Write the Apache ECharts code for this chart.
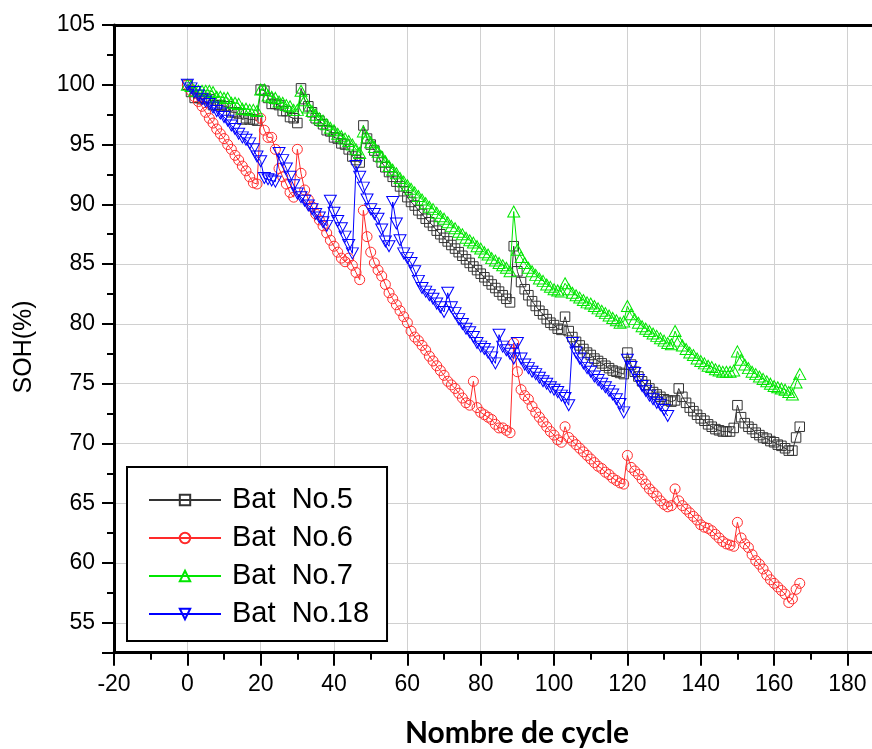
<!DOCTYPE html>
<html>
<head>
<meta charset="utf-8">
<script src="https://cdn.jsdelivr.net/npm/echarts@6.0.0/dist/echarts.min.js"></script>
<style>
  html, body { margin: 0; padding: 0; background: #fff; }
  #chart { width: 872px; height: 749px; }
</style>
</head>
<body>
<div id="chart"></div>
<script>
// Battery state of health (%) versus discharge cycle, batteries No.5, No.6, No.7 and No.18.
const seriesNames = ['Bat  No.5', 'Bat  No.6', 'Bat  No.7', 'Bat  No.18'];

const sohBat5 = [
  100, 99.4, 98.9, 98.9, 98.8, 98.9, 98.8, 98.3, 98.3, 98.3,
  98.2, 98.2, 97.7, 97.7, 97.6, 97.1, 97.2, 97.1, 97.1, 97.0,
  99.6, 99.5, 98.9, 98.4, 98.4, 98.3, 97.8, 97.8, 97.3, 97.2,
  96.8, 99.7, 98.8, 98.2, 97.7, 97.2, 97.0, 96.7, 96.2, 96.1,
  95.6, 95.5, 95.1, 95.0, 94.6, 94.0, 93.7, 93.5, 96.6, 95.5,
  95.0, 94.5, 94.0, 93.5, 93.1, 92.7, 92.3, 91.9, 91.5, 91.1,
  90.6, 90.2, 89.9, 89.5, 89.2, 88.8, 88.5, 88.2, 87.8, 87.5,
  87.2, 86.9, 86.6, 86.3, 86.0, 85.7, 85.4, 85.1, 84.8, 84.5,
  84.2, 83.9, 83.6, 83.3, 83.0, 82.7, 82.4, 82.1, 81.8, 86.5,
  84.4, 83.5, 82.9, 82.4, 81.9, 81.5, 81.1, 80.8, 80.4, 80.1,
  79.9, 79.6, 79.5, 80.6, 79.4, 78.9, 78.5, 78.2, 77.9, 77.6,
  77.4, 77.1, 76.9, 76.7, 76.5, 76.3, 76.1, 76.0, 75.9, 75.8,
  77.6, 76.6, 76.0, 75.6, 75.2, 74.9, 74.6, 74.3, 74.1, 73.9,
  73.7, 73.6, 73.5, 73.6, 74.6, 73.9, 73.4, 73.0, 72.7, 72.4,
  72.1, 71.9, 71.6, 71.4, 71.2, 71.1, 71.0, 71.0, 71.0, 71.3,
  73.2, 72.2, 71.7, 71.4, 71.2, 70.9, 70.7, 70.5, 70.4, 70.2,
  70.1, 69.9, 69.8, 69.6, 69.4, 69.4, 70.5, 71.4
];

const sohBat6 = [
  100, 99.5, 99.0, 98.6, 98.2, 97.7, 97.2, 96.8, 96.3, 95.9,
  95.5, 95.0, 94.6, 94.1, 93.7, 93.2, 92.8, 92.3, 91.8, 91.7,
  97.2, 96.2, 95.6, 95.6, 94.6, 93.0, 92.3, 91.7, 91.0, 90.6,
  94.6, 92.6, 91.2, 90.4, 89.8, 89.2, 88.7, 88.2, 87.6, 87.0,
  86.5, 86.0, 85.5, 85.2, 85.5, 84.9, 84.3, 83.7, 89.5, 87.3,
  86.0, 85.1, 84.5, 84.0, 83.3, 82.6, 82.1, 81.6, 81.1, 80.6,
  80.1, 79.4, 78.9, 78.6, 78.2, 77.8, 77.3, 76.9, 76.5, 76.1,
  75.7, 75.2, 74.9, 74.6, 74.2, 73.8, 73.4, 73.2, 75.2, 73.0,
  72.6, 72.4, 72.2, 72.0, 71.6, 71.3, 71.3, 71.1, 70.9, 78.4,
  76.0, 74.5, 74.0, 73.7, 73.1, 72.6, 72.2, 71.8, 71.4, 71.0,
  70.7, 70.3, 70.1, 71.4, 70.5, 70.2, 69.9, 69.6, 69.3, 69.0,
  68.7, 68.4, 68.1, 67.9, 67.6, 67.4, 67.1, 66.9, 66.7, 66.6,
  69.0, 68.0, 67.7, 67.4, 67.0, 66.6, 66.2, 65.9, 65.6, 65.2,
  64.9, 64.7, 64.8, 66.2, 65.2, 64.8, 64.5, 64.2, 63.9, 63.6,
  63.2, 63.0, 62.9, 62.7, 62.4, 62.1, 61.8, 61.6, 61.5, 61.4,
  63.4, 62.1, 61.6, 61.3, 60.7, 60.2, 59.9, 59.5, 59.0, 58.6,
  58.3, 58.0, 57.7, 57.4, 56.7, 57.0, 57.8, 58.3
];

const sohBat7 = [
  100, 99.9, 99.5, 99.5, 99.5, 99.5, 99.5, 99.4, 99.0, 99.0,
  98.9, 98.9, 98.5, 98.5, 98.4, 98.0, 98.0, 97.9, 97.9, 97.8,
  99.6, 99.6, 99.1, 99.0, 98.9, 98.6, 98.5, 98.3, 98.2, 97.9,
  97.9, 99.5, 98.7, 98.1, 97.8, 97.5, 97.2, 97.0, 96.7, 96.4,
  96.2, 95.9, 95.7, 95.5, 95.3, 95.0, 94.6, 94.3, 96.1, 95.6,
  95.2, 94.8, 94.4, 94.0, 93.6, 93.2, 92.9, 92.6, 92.2, 91.9,
  91.6, 91.3, 91.0, 90.7, 90.4, 90.1, 89.8, 89.6, 89.3, 89.0,
  88.8, 88.5, 88.2, 88.0, 87.7, 87.5, 87.2, 87.0, 86.8, 86.5,
  86.3, 86.0, 85.8, 85.5, 85.3, 85.1, 84.9, 84.7, 84.4, 89.4,
  86.2, 85.6, 85.1, 84.7, 84.4, 84.1, 83.8, 83.6, 83.3, 83.1,
  82.9, 82.8, 82.7, 83.4, 82.9, 82.6, 82.4, 82.2, 82.0, 81.8,
  81.7, 81.5, 81.3, 81.1, 80.9, 80.7, 80.5, 80.3, 80.1, 80.2,
  81.5, 80.8, 80.4, 80.1, 79.8, 79.6, 79.4, 79.2, 79.0, 78.8,
  78.6, 78.4, 78.3, 79.4, 78.6, 78.2, 77.9, 77.6, 77.4, 77.1,
  76.9, 76.7, 76.5, 76.4, 76.2, 76.1, 76.0, 76.0, 76.0, 76.1,
  77.7, 77.0, 76.6, 76.3, 76.0, 75.8, 75.6, 75.4, 75.2, 75.0,
  74.8, 74.7, 74.6, 74.5, 74.3, 74.1, 75.1, 75.8
];

const sohBat18 = [
  100, 99.7, 99.4, 99.1, 98.8, 98.6, 98.4, 98.1, 97.8, 97.6,
  97.3, 97.0, 96.6, 96.3, 95.9, 95.6, 95.4, 95.1, 94.6, 94.0,
  93.6, 92.2, 92.1, 92.0, 91.9, 94.3, 93.7, 93.0, 92.3, 91.6,
  90.9, 90.6, 90.3, 89.9, 89.6, 89.2, 88.9, 88.5, 88.2, 90.3,
  89.3, 88.6, 88.0, 87.3, 86.6, 85.9, 93.2, 92.3, 91.4, 90.4,
  89.6, 89.2, 88.8, 87.9, 86.9, 86.5, 90.2, 88.4, 87.0, 85.9,
  85.5, 85.1, 84.4, 83.6, 83.0, 82.7, 82.4, 82.1, 81.7, 81.4,
  81.0, 82.6, 81.4, 80.9, 80.4, 80.0, 79.6, 79.3, 78.9, 78.4,
  78.1, 77.9, 77.6, 77.2, 76.7, 79.1, 78.1, 77.8, 77.5, 77.1,
  78.4, 77.1, 76.6, 76.3, 76.0, 75.8, 75.5, 75.2, 75.0, 74.7,
  74.5, 74.3, 74.0, 73.8, 73.2, 78.4, 77.6, 77.1, 76.7, 76.3,
  76.0, 75.6, 75.3, 75.0, 74.7, 74.4, 74.1, 73.7, 73.3, 72.6,
  77.0, 76.4, 75.9, 75.3, 74.8, 74.4, 74.0, 73.7, 73.4, 73.2,
  72.8, 72.3
];

// Axis range (the frame continues past the right edge) and tick positions
const xRange = [-20, 186.7];
const xMajorTicks = [-20, 0, 20, 40, 60, 80, 100, 120, 140, 160, 180];
const xMinorTicks = [-10, 10, 30, 50, 70, 90, 110, 130, 150, 170];
const yRange = [52.5, 105];
const yMinorStep = 2.5;

const FONT = '"Liberation Sans", Arial, sans-serif';

// Pair each SOH value with its cycle number (cycles counted from 0)
function toPoints(values) {
  return values.map((v, i) => [i, v]);
}

const styles = [
  { color: '#333333', symbol: 'rect', size: 9.5, rotate: 0 },
  { color: '#ff2a2a', symbol: 'circle', size: 10, rotate: 0 },
  { color: '#00e600', symbol: 'triangle', size: [12, 11], rotate: 0 },
  { color: '#0000ff', symbol: 'triangle', size: [12, 11], rotate: 180 }
];
const allValues = [sohBat5, sohBat6, sohBat7, sohBat18];

const series = allValues.map((vals, k) => ({
  name: seriesNames[k],
  type: 'line',
  data: toPoints(vals),
  xAxisIndex: 0,
  yAxisIndex: 0,
  symbol: styles[k].symbol,
  symbolSize: styles[k].size,
  symbolRotate: styles[k].rotate,
  showAllSymbol: true,
  lineStyle: { color: styles[k].color, width: 1 },
  itemStyle: { color: 'rgba(255,255,255,0)', borderColor: styles[k].color, borderWidth: 1 },
  emphasis: { disabled: true },
  silent: true,
  z: 3 + k
}));

const chart = echarts.init(document.getElementById('chart'), null, { renderer: 'canvas' });

chart.setOption({
  animation: false,
  backgroundColor: '#ffffff',
  grid: { left: 114, top: 25, right: 0, bottom: 96.3, containLabel: false, outerBoundsMode: 'none' },
  legend: {
    data: seriesNames,
    orient: 'vertical',
    left: 127,
    top: 467,
    padding: [18, 18, 12, 21],
    itemGap: 8,
    itemWidth: 72,
    itemHeight: 13,
    selectedMode: false,
    backgroundColor: '#ffffff',
    borderColor: '#000000',
    borderWidth: 2,
    textStyle: { fontFamily: FONT, fontSize: 29, lineHeight: 30, color: '#000', padding: [0, 0, 0, 6] },
    z: 10
  },
  xAxis: [
    {
      type: 'value',
      min: xRange[0],
      max: xRange[1],
      position: 'bottom',
      name: 'Nombre de cycle',
      nameLocation: 'middle',
      nameGap: 66,
      nameTextStyle: {
        fontFamily: 'Lato, "Open Sans", sans-serif', fontWeight: 'bold', fontSize: 30, color: '#000',
        padding: [0, 0, 0, 48]
      },
      axisLine: { show: true, onZero: false, lineStyle: { color: '#000', width: 3 } },
      axisTick: { show: true, inside: false, length: 13, customValues: xMajorTicks, lineStyle: { color: '#000', width: 2 } },
      axisLabel: {
        margin: 20, fontSize: 23, fontFamily: FONT, color: '#000',
        customValues: xMajorTicks
      },
      splitLine: { show: true, lineStyle: { color: '#d0d0d0', width: 1 } }
    },
    {
      type: 'value',
      min: xRange[0],
      max: xRange[1],
      position: 'top',
      axisLine: { show: true, onZero: false, lineStyle: { color: '#000', width: 3 } },
      axisTick: { show: false },
      axisLabel: { show: false },
      splitLine: { show: false }
    },
    {
      // short ticks halfway between the labelled ones
      type: 'value',
      min: xRange[0],
      max: xRange[1],
      position: 'bottom',
      axisLine: { show: false, onZero: false },
      axisTick: { show: true, inside: false, length: 7, customValues: xMinorTicks, lineStyle: { color: '#000', width: 2 } },
      axisLabel: { show: false },
      splitLine: { show: false }
    }
  ],
  yAxis: [
    {
      type: 'value',
      min: yRange[0],
      max: yRange[1],
      splitNumber: 10,
      position: 'left',
      name: 'SOH(%)',
      nameLocation: 'middle',
      nameGap: 77,
      nameRotate: 90,
      nameTextStyle: { fontFamily: FONT, fontSize: 25, color: '#000', padding: [0, 16, 0, 0] },
      axisLine: { show: true, onZero: false, lineStyle: { color: '#000', width: 3 } },
      axisTick: { show: true, inside: false, length: 12, lineStyle: { color: '#000', width: 2 } },
      axisLabel: {
        margin: 19, fontSize: 23, fontFamily: FONT, color: '#000',
        formatter: v => (Math.abs(v % 5) < 1e-9 ? String(v) : '')
      },
      splitLine: { show: true, lineStyle: { color: '#d0d0d0', width: 1 } }
    },
    {
      // half-step ticks between the labelled ones
      type: 'value',
      min: yRange[0],
      max: yRange[1],
      interval: yMinorStep,
      position: 'left',
      axisLine: { show: false, onZero: false },
      axisTick: { show: true, inside: false, length: 7, lineStyle: { color: '#000', width: 2 } },
      axisLabel: { show: false },
      splitLine: { show: false }
    }
  ],
  series: series
});
</script>
</body>
</html>
